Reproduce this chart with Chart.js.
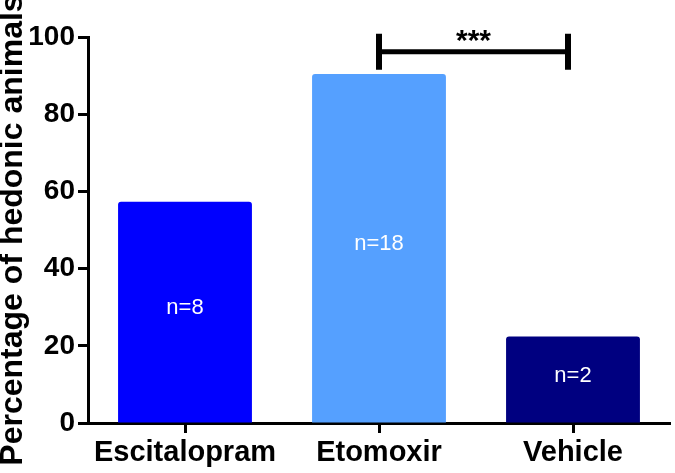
<!DOCTYPE html>
<html>
<head>
<meta charset="utf-8">
<title>Hedonic animals</title>
<script src="https://cdn.jsdelivr.net/npm/chart.js@4.4.1/dist/chart.umd.min.js"></script>
<style>
    html, body { margin: 0; padding: 0; background: #ffffff; }
    #wrap { width: 675px; height: 473px; }
</style>
</head>
<body>
<div id="wrap"><canvas id="hedonic-chart" width="675" height="473"></canvas></div>
<script>
    "use strict";

    // Data
    var groups = ["Escitalopram", "Etomoxir", "Vehicle"];
    var hedonicPercent = [57.3, 90.4, 22.4];
    var groupSizes = ["n=8", "n=18", "n=2"];
    var barColors = ["#0000ff", "#55a0ff", "#000080"];
    var yTicks = [0, 20, 40, 60, 80, 100];

    // Significance bracket between two groups
    var sigPair = ["Etomoxir", "Vehicle"];
    var sigLevel = [96.2];
    var sigText = ["***"];

    var FONT = "'Liberation Sans', Arial, Helvetica, sans-serif";

    // Draws n= labels inside bars and the significance bracket
    var annotations = {
        id: "annotations",
        afterDatasetsDraw: function (chart) {
            var ctx = chart.ctx;
            var meta = chart.getDatasetMeta(0);
            var x = chart.scales.x;
            var y = chart.scales.y;

            ctx.save();
            ctx.fillStyle = "#ffffff";
            ctx.font = "22px " + FONT;
            ctx.textAlign = "center";
            ctx.textBaseline = "middle";
            meta.data.forEach(function (bar, i) {
                ctx.fillText(groupSizes[i], bar.x, (bar.y + bar.base) / 2 - 4);
            });

            var x1 = x.getPixelForValue(groups.indexOf(sigPair[0]));
            var x2 = x.getPixelForValue(groups.indexOf(sigPair[1])) - 5;
            var yb = y.getPixelForValue(sigLevel[0]);
            ctx.strokeStyle = "#000000";
            ctx.lineWidth = 5;
            ctx.beginPath();
            ctx.moveTo(x1, yb);
            ctx.lineTo(x2, yb);
            ctx.stroke();
            ctx.lineWidth = 6;
            ctx.beginPath();
            ctx.moveTo(x1, yb - 18);
            ctx.lineTo(x1, yb + 18);
            ctx.moveTo(x2, yb - 18);
            ctx.lineTo(x2, yb + 18);
            ctx.stroke();

            ctx.fillStyle = "#000000";
            ctx.font = "bold 30px " + FONT;
            ctx.textBaseline = "alphabetic";
            ctx.fillText(sigText[0], (x1 + x2) / 2, yb - 2);
            ctx.restore();
        }
    };

    var ctx1 = document.getElementById("hedonic-chart").getContext("2d");
    var myChart1 = new Chart(ctx1, {
        type: "bar",
        data: {
            labels: groups,
            datasets: [{
                data: hedonicPercent,
                backgroundColor: barColors,
                borderWidth: 0,
                borderRadius: 3,
                borderSkipped: "start",
                barPercentage: 0.69,
                categoryPercentage: 1
            }]
        },
        options: {
            responsive: false,
            animation: false,
            layout: { padding: { top: 37, right: 5, left: 0, bottom: 0 } },
            plugins: {
                legend: { display: false },
                tooltip: { enabled: false }
            },
            scales: {
                x: {
                    offset: true,
                    grid: {
                        offset: false,
                        drawOnChartArea: false,
                        drawTicks: true,
                        tickLength: 10,
                        tickWidth: 3,
                        tickColor: "#000000"
                    },
                    border: { display: true, color: "#000000", width: 3 },
                    ticks: {
                        color: "#000000",
                        padding: 3,
                        maxRotation: 0,
                        font: { family: FONT, size: 29, weight: "bold" }
                    },
                    afterFit: function (scale) { scale.height = 50; }
                },
                y: {
                    min: yTicks[0],
                    max: yTicks[yTicks.length - 1],
                    afterBuildTicks: function (scale) {
                        scale.ticks = yTicks.map(function (v) { return { value: v }; });
                    },
                    grid: {
                        drawOnChartArea: false,
                        drawTicks: true,
                        tickLength: 10,
                        tickWidth: 3,
                        tickColor: "#000000"
                    },
                    border: { display: true, color: "#000000", width: 3 },
                    ticks: {
                        color: "#000000",
                        padding: 3,
                        font: { family: FONT, size: 28, weight: "bold" }
                    },
                    title: {
                        display: true,
                        text: "Percentage of hedonic animals",
                        color: "#000000",
                        padding: 0,
                        font: { family: FONT, size: 32, weight: "bold", lineHeight: 0.85 }
                    },
                    afterFit: function (scale) { scale.width = 88; }
                }
            }
        },
        plugins: [annotations]
    });
</script>
</body>
</html>
